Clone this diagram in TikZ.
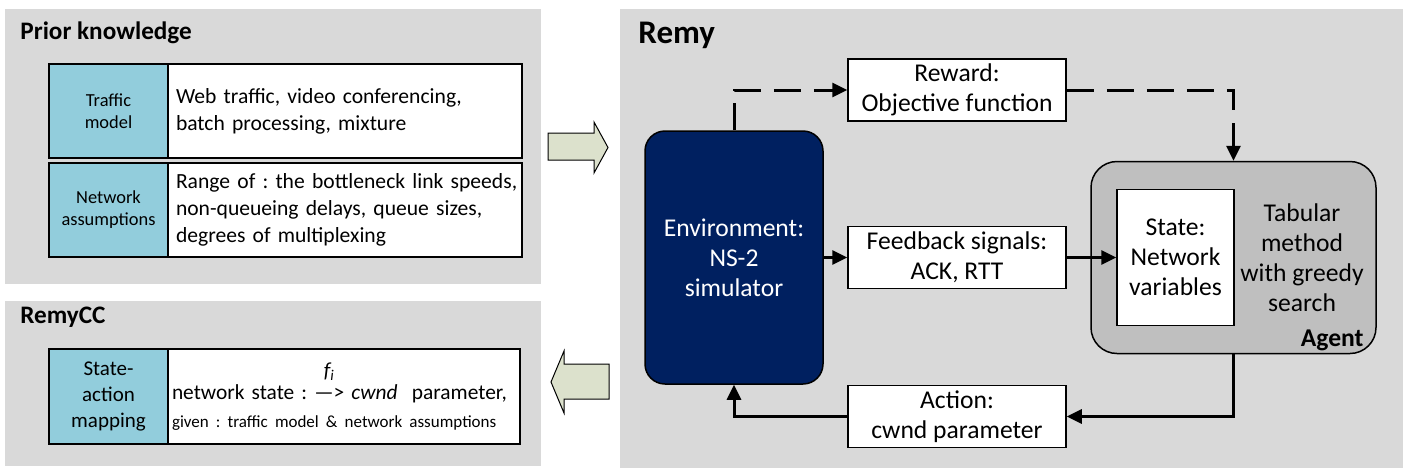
\documentclass[tikz,border=0pt]{standalone}
\usepackage{amsmath}
\usepackage{fontspec}
\setmainfont{Carlito}
\usepackage{tikz}
\usetikzlibrary{arrows.meta}
\definecolor{panelgray}{HTML}{D9D9D9}
\definecolor{keyblue}{HTML}{92CDDC}
\definecolor{envblue}{HTML}{002060}
\definecolor{agentgray}{HTML}{BFBFBF}
\definecolor{bigarrow}{HTML}{DCE1CC}
\frenchspacing

\begin{document}
\begin{tikzpicture}[x=0.5pt,y=-0.5pt,
		panel/.style={fill=panelgray,anchor=north west,inner sep=0pt},
		heading/.style={anchor=base west,inner sep=0pt,font=\bfseries\fontsize{12.6}{15}\selectfont},
		keycell/.style={draw,line width=1pt,fill=keyblue,anchor=north west,minimum width=59.5pt,minimum height=47pt,inner sep=0pt,align=center},
		valcell/.style={draw,line width=1pt,fill=white,anchor=north west,minimum height=47pt,inner xsep=4pt,text width=169pt,align=left,font=\fontsize{10.8}{13.5}\selectfont},
		box/.style={draw,line width=0.75pt,fill=white,minimum width=109pt,minimum height=31pt,inner sep=0pt,align=center,font=\fontsize{12.8}{15}\selectfont},
		flow/.style={line width=1.5pt,-{Triangle[length=7.5pt,width=7pt]}},
		rewardflow/.style={flow,dash pattern=on 13.5pt off 6.5pt}]
			\useasboundingbox (0,0) rectangle (1403,468);
			
			\node[panel,minimum width=268pt,minimum height=137.5pt] (prior)at(5,9) {};
			\node[panel,minimum width=268pt,minimum height=82.5pt] (remycc)at(5,301) {};
			\node[panel,minimum width=391.5pt,minimum height=229.5pt] (remy)at(620,9) {};
			
			\node[heading] (priorhead)at(20,39) {Prior knowledge};
			\node[heading] (remycchead)at(20,323) {RemyCC};
			\node[heading,font=\bfseries\fontsize{16.5}{19}\selectfont] (remyhead)at(638,43) {Remy};
			
			\node[keycell,font=\fontsize{9.2}{11}\selectfont] (trafkey)at(48,63) {Traffic\\model};
			\node[valcell] (trafval)at(167,63) {Web traffic, video conferencing,\\batch processing, mixture};
			\node[keycell,font=\fontsize{9.2}{11}\selectfont] (netkey)at(48,162) {Network\\assumptions};
			\node[valcell] (netval)at(167,162) {\mbox{Range of : the bottleneck link speeds,}\\non-queueing delays, queue sizes,\\degrees of multiplexing};
			\node[keycell,minimum height=47.5pt,font=\fontsize{10.5}{13}\selectfont] (mapkey)at(48,348) {State-\\action\\mapping};
			\node[valcell,minimum height=47.5pt,inner xsep=2pt,text width=172pt,font=\fontsize{10.7}{14}\selectfont] (mapval)at(167,348) {\mbox{network state : \shortstack{\textit{f\textsubscript{i}}\\[0.5pt]—>} \textit{cwnd}\ \ parameter,}\\{\fontsize{8.5}{10}\selectfont\mbox{given : traffic model \& network assumptions}}};
			
			\filldraw[fill=bigarrow,line width=0.5pt] (548,133) -- (594,133) -- (594,122) -- (608,147.5) -- (594,173) -- (594,160) -- (548,160) -- cycle;
			\filldraw[fill=bigarrow,line width=0.5pt] (609,364) -- (564,364) -- (564,351) -- (551,382) -- (564,413) -- (564,399) -- (609,399) -- cycle;
			
			\node[draw,line width=0.75pt,fill=envblue,rounded corners=10pt,minimum width=89pt,minimum height=126.5pt,text=white,align=center,font=\fontsize{12.8}{15}\selectfont] (env)at(734,257.5) {Environment:\\NS-2\\simulator};
			\node[box] (reward)at(957,90) {Reward:\\Objective function};
			\node[box] (feedback)at(957,257.5) {Feedback signals:\\ACK, RTT};
			\node[box] (action)at(957,416.5) {Action:\\cwnd parameter};
			\node[draw,line width=0.75pt,fill=agentgray,rounded corners=13pt,minimum width=142.5pt,minimum height=96pt] (agent)at(1233.5,257.5) {};
			\node[box,minimum width=58.5pt,minimum height=68pt] (state)at(1175.5,257.5) {State:\\Network\\variables};
			\node[align=center,font=\fontsize{12.8}{15}\selectfont] (method)at(1302,257.5) {Tabular\\method\\with greedy\\search};
			\node[anchor=base east,inner sep=0pt,font=\bfseries\fontsize{12.8}{15}\selectfont] (agentlabel)at(1364,346) {Agent};
			
			\draw[rewardflow] (env.north) |- (reward.west);
			\draw[rewardflow] (reward.east) -| (agent.north);
			\draw[flow] (env.east) -- (feedback.west);
			\draw[flow] (feedback.east) -- (state.west);
			\draw[flow] (agent.south) |- (action.east);
			\draw[flow] (action.west) -| (env.south);
		\end{tikzpicture}
\end{document}
